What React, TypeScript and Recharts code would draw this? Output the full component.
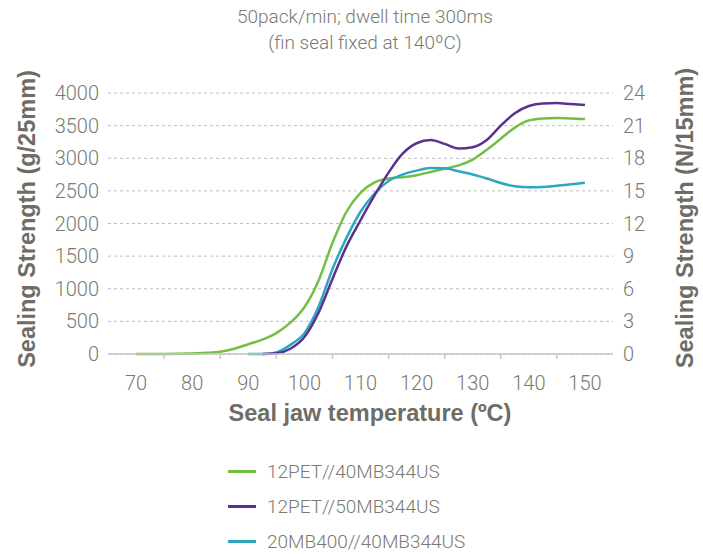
import React from "react";
import { LineChart, Line, XAxis, YAxis, CartesianGrid, Legend, Label } from "recharts";

// seal jaw temperature (ºC), one reading every 2.5 degrees
const temps = [
  70, 72.5, 75, 77.5, 80, 82.5, 85, 87.5, 90, 92.5, 95, 97.5, 100, 102.5, 105, 107.5, 110,
  112.5, 115, 117.5, 120, 122.5, 125, 127.5, 130, 132.5, 135, 137.5, 140, 142.5, 145, 147.5, 150,
];

// sealing strength, g/25mm
const pet40 = [
  0, 0, 0, 2, 8, 18, 35, 80, 150, 220, 320, 480, 716, 1120, 1700, 2180, 2470,
  2630, 2690, 2710, 2740, 2790, 2840, 2890, 2980, 3130, 3300, 3470, 3580, 3610, 3615, 3610, 3600,
];
const pet50 = [
  null, null, null, null, null, null, null, null, null, 0, 10, 80, 260, 630, 1150, 1650, 2050,
  2430, 2780, 3070, 3230, 3280, 3220, 3150, 3170, 3280, 3500, 3690, 3800, 3840, 3845, 3830, 3815,
];
const mb400 = [
  null, null, null, null, null, null, null, null, 0, 0, 25, 140, 320, 720, 1300, 1780, 2180,
  2460, 2650, 2750, 2810, 2850, 2845, 2800, 2750, 2690, 2620, 2570, 2555, 2560, 2580, 2600, 2625,
];

const seriesNames = ["12PET//40MB344US", "12PET//50MB344US", "20MB400//40MB344US"];
const seriesColors = ["#72bf44", "#5b3190", "#2ea6c0"];

const xLabels = [70, 80, 90, 100, 110, 120, 130, 140, 150];
const leftTicks = [0, 500, 1000, 1500, 2000, 2500, 3000, 3500, 4000];
const rightTicks = [0, 3, 6, 9, 12, 15, 18, 21, 24];

const data = temps.map((t, i) => ({ t, a: pet40[i], b: pet50[i], c: mb400[i] }));

// labels sit in the middle of each band, tick marks between them
const xTicks = xLabels.flatMap((v, i) => (i < xLabels.length - 1 ? [v, v + 5] : [v]));

const LIGHT = "Roboto, 'Liberation Sans', sans-serif";
const BOLD = "'Liberation Sans', Arial, sans-serif";
const tickColor = "#7a7a72";
const titleColor = "#6d6d65";
const axisColor = "#c6c6c6";

function TempTick(props: any) {
  const { x, y, payload } = props;
  const v = payload.value;
  if (v % 10 !== 0) {
    return <line x1={x} x2={x} y1={y - 22} y2={y - 17} stroke={axisColor} strokeWidth={1.5} />;
  }
  return (
    <text x={x} y={y} dy="0.71em" textAnchor="middle" fill={tickColor} fontSize={20} fontFamily={LIGHT} fontWeight={300}>
      {v}
    </text>
  );
}

function LegendList() {
  return (
    <div style={{ fontFamily: LIGHT, fontWeight: 300, fontSize: 19, color: tickColor }}>
      {seriesNames.map((name, i) => (
        <div key={name} style={{ display: "flex", alignItems: "center", height: 35 }}>
          <span style={{ display: "inline-block", width: 28, height: 3, background: seriesColors[i], marginRight: 11 }} />
          <span>{name}</span>
        </div>
      ))}
    </div>
  );
}

export default function App() {
  return (
    <div style={{ position: "absolute", left: 0, top: 0, width: 703, height: 554, background: "#fff" }}>
      <div
        style={{
          position: "absolute",
          left: 165,
          top: 4,
          width: 400,
          textAlign: "center",
          fontFamily: LIGHT,
          fontWeight: 300,
          fontSize: 19,
          lineHeight: "26px",
          color: tickColor,
        }}
      >
        50pack/min; dwell time 300ms
        <br />
        (fin seal fixed at 140ºC)
      </div>
      <LineChart width={703} height={554} data={data} margin={{ top: 93, right: 0, bottom: 120, left: 0 }}>
        <CartesianGrid yAxisId="left" vertical={false} stroke="#bdbdbd" strokeDasharray="3 3" />
        <XAxis
          dataKey="t"
          type="number"
          domain={[65, 155]}
          ticks={xTicks}
          interval={0}
          height={80}
          tickLine={false}
          tickSize={5}
          tickMargin={17}
          axisLine={{ stroke: axisColor, strokeWidth: 1.5 }}
          tick={<TempTick />}
        >
          <Label
            content={() => (
              <text x={370} y={421} textAnchor="middle" fill={titleColor} fontSize={23.5} fontWeight={700} fontFamily={BOLD}>
                Seal jaw temperature (ºC)
              </text>
            )}
          />
        </XAxis>
        <YAxis
          yAxisId="left"
          width={108}
          domain={[0, 4000]}
          ticks={leftTicks}
          interval={0}
          tickLine={false}
          axisLine={false}
          tickMargin={3}
          tick={{ fill: tickColor, fontSize: 20, fontFamily: LIGHT, fontWeight: 300 }}
        >
          <Label
            content={() => (
              <text
                x={0}
                y={0}
                transform="translate(35 219) rotate(-90)"
                textAnchor="middle"
                fill={titleColor}
                fontSize={23.5}
                fontWeight={700}
                fontFamily={BOLD}
              >
                Sealing Strength (g/25mm)
              </text>
            )}
          />
        </YAxis>
        <YAxis
          yAxisId="right"
          orientation="right"
          width={90}
          type="number"
          domain={[0, 24]}
          allowDataOverflow
          ticks={rightTicks}
          interval={0}
          tickLine={false}
          axisLine={false}
          tickMargin={4}
          tick={{ fill: tickColor, fontSize: 20, fontFamily: LIGHT, fontWeight: 300 }}
        >
          <Label
            content={() => (
              <text
                x={0}
                y={0}
                transform="translate(693 218) rotate(-90)"
                textAnchor="middle"
                fill={titleColor}
                fontSize={23.5}
                fontWeight={700}
                fontFamily={BOLD}
              >
                Sealing Strength (N/15mm)
              </text>
            )}
          />
        </YAxis>
        <Legend
          layout="vertical"
          align="center"
          verticalAlign="middle"
          content={<LegendList />}
          wrapperStyle={{ position: "absolute", left: 228, top: 454, width: 300 }}
        />
        <Line yAxisId="left" type="monotone" dataKey="a" name={seriesNames[0]} stroke={seriesColors[0]} strokeWidth={2.5} dot={false} isAnimationActive={false} />
        <Line yAxisId="left" type="monotone" dataKey="c" name={seriesNames[2]} stroke={seriesColors[2]} strokeWidth={2.5} dot={false} isAnimationActive={false} />
        <Line yAxisId="left" type="monotone" dataKey="b" name={seriesNames[1]} stroke={seriesColors[1]} strokeWidth={2.5} dot={false} isAnimationActive={false} />
      </LineChart>
    </div>
  );
}
